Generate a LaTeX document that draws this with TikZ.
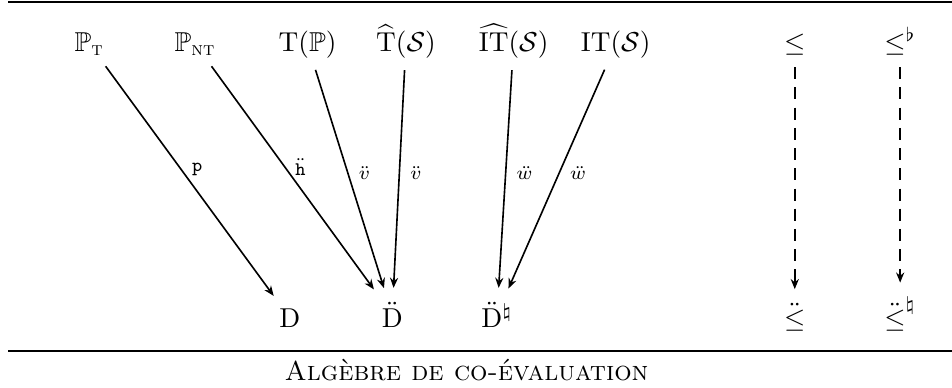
\documentclass[tikz,border=0pt]{standalone}
\usepackage{amsmath,amssymb}
\usetikzlibrary{arrows.meta,positioning}

\begin{document}
\begin{tikzpicture}[
  obj/.style={anchor=base, inner sep=2pt, scale=1.35},
  lbl/.style={right, font=\scriptsize, inner sep=3.5pt, scale=1.35},
  arr/.style={-{Stealth[length=5pt,width=4pt]}, thick,
              shorten <=3pt, shorten >=4pt},
  dasharr/.style={arr, dash pattern=on 6pt off 4pt},
  rule/.style={line width=0.8pt}
]
  \useasboundingbox (0,0) rectangle (16.53,6.72);

  % top row
  \node[obj] (pt)  at (1.55,5.83)  {$\mathbb{P}_{\textsc{t}}$};
  \node[obj] (pnt) at (3.39,5.83)  {$\mathbb{P}_{\textsc{nt}}$};
  \node[obj] (tp)  at (5.34,5.83)  {$\mathrm{T}(\mathbb{P})$};
  \node[obj] (ht)  at (7.05,5.83)  {$\widehat{\mathrm{T}}(\mathcal{S})$};
  \node[obj] (hit) at (8.92,5.83)  {$\widehat{\mathrm{IT}}(\mathcal{S})$};
  \node[obj] (it)  at (10.69,5.83) {$\mathrm{IT}(\mathcal{S})$};
  \node[obj] (le)  at (13.80,5.83) {$\leq$};
  \node[obj] (lef) at (15.63,5.83) {$\leq^\flat$};

  % bottom row
  \node[obj] (d)    at (5.03,1.04)  {$\mathrm{D}$};
  \node[obj] (dd)   at (6.81,1.04)  {$\ddot{\mathrm{D}}$};
  \node[obj] (ddn)  at (8.63,1.04)  {$\ddot{\mathrm{D}}^\natural$};
  \node[obj] (lee)  at (13.80,1.04) {$\ddot{\leq}$};
  \node[obj] (leen) at (15.63,1.04) {$\ddot{\leq}^\natural$};

  \draw[arr] (pt)  -- node[lbl, pos=0.45] {$\mathtt{p}$} (d);
  \draw[arr] (pnt) -- node[lbl, pos=0.45] {$\ddot{\mathtt{h}}$} (dd);
  \draw[arr] (tp)  -- node[lbl, pos=0.47] {$\ddot{v}$} (dd);
  \draw[arr] (ht)  -- node[lbl, pos=0.47] {$\ddot{v}$} (dd);
  \draw[arr] (hit) -- node[lbl, pos=0.47] {$\ddot{w}$} (ddn);
  \draw[arr] (it)  -- node[lbl, pos=0.47] {$\ddot{w}$} (ddn);

  \draw[dasharr] (le)  -- (lee);
  \draw[dasharr] (lef) -- (leen);

  % frame and caption
  \draw[rule] (0.14,6.69) -- (16.53,6.69);
  \draw[rule] (0.14,0.63) -- (16.53,0.63);
  \node[scale=1.35] (cap) at (8.10,0.30) {\textsc{Algèbre de co-évaluation}};

\end{tikzpicture}
\end{document}
